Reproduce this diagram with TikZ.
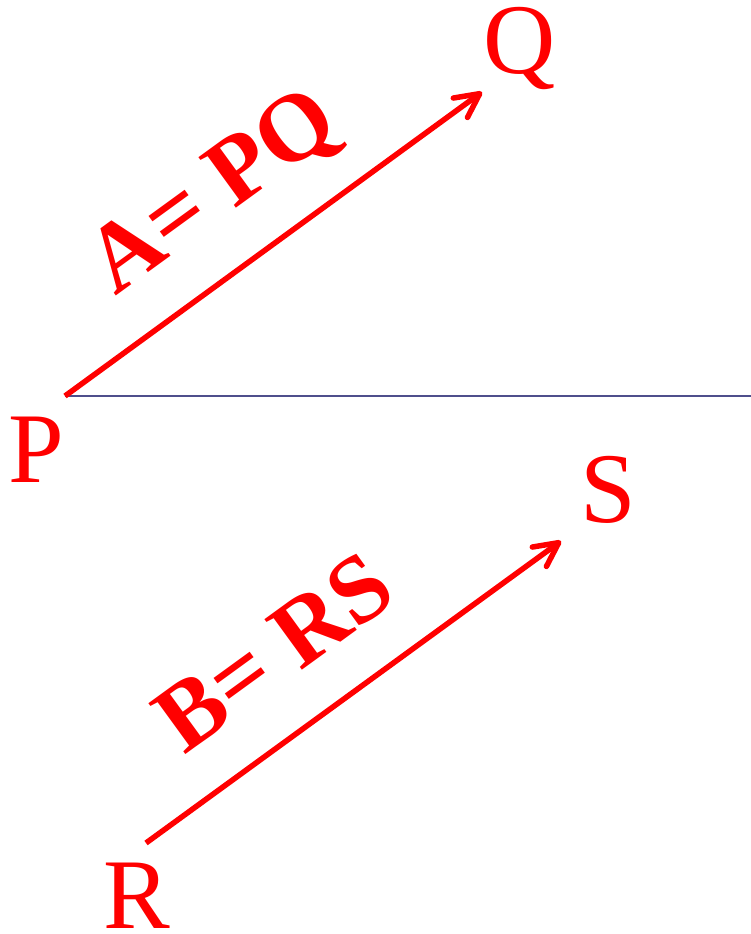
\documentclass[tikz,border=0pt]{standalone}
\usepackage{fontspec}
\setmainfont{Liberation Serif}
\usetikzlibrary{arrows.meta}
\definecolor{vecred}{HTML}{FF0000}
\definecolor{axisblue}{HTML}{4F4F8C}

\begin{document}
\begin{tikzpicture}[
  x=0.5bp, y=-0.5bp,
  ptname/.style={font=\fontsize{50bp}{60bp}\selectfont, text=vecred, anchor=base, inner sep=0pt},
  veclabel/.style={font=\fontsize{48bp}{56bp}\selectfont\bfseries, text=vecred, anchor=base, inner sep=0pt, rotate=36},
  vec/.style={draw=vecred, line width=2.75bp, -{Straight Barb[length=12bp, width=12bp, round]}},
  axis/.style={draw=axisblue, line width=1.4bp}
]
\useasboundingbox (0,0) rectangle (751,934);

% end points of the vectors
\coordinate (p) at (65,396);
\coordinate (q) at (482,92);
\coordinate (r) at (146,843);
\coordinate (s) at (561,541);
\coordinate (xend) at (751,396);

\node[ptname] (P) at (36,482) {P};
\node[ptname] (Q) at (520,73) {Q};
\node[ptname] (R) at (137,928) {R};
\node[ptname] (S) at (608,522) {S};

\draw[axis] (p) -- (xend);
\draw[vec] (p) -- (q);
\draw[vec] (r) -- (s);

\node[veclabel] (A) at (229,214) {A= PQ};
\node[veclabel] (B) at (292,677) {B= RS};

\end{tikzpicture}
\end{document}
